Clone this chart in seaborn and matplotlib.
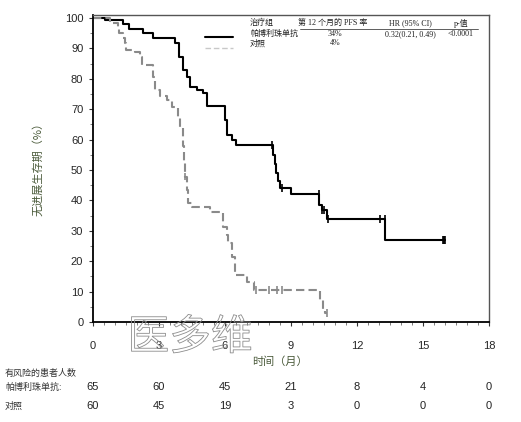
import matplotlib
matplotlib.use("Agg")
import matplotlib.pyplot as plt
import matplotlib.patheffects as pe
import seaborn as sns
import pandas as pd
import numpy as np
from matplotlib.ticker import MultipleLocator

# ---------------- data ----------------
pembro_t = [0, 0.55, 1.38, 1.65, 2.28, 2.74, 3.73, 3.92, 4.11, 4.26, 4.41, 4.71, 5.02, 5.17,
            6.00, 6.11, 6.30, 6.49, 8.17, 8.25, 8.32, 8.40, 8.50, 8.99, 10.29, 10.39, 10.62, 13.27, 16.0]
pembro_s = [100, 99.3, 98.0, 96.4, 95.0, 93.3, 91.7, 87.3, 82.9, 80.7, 77.4, 76.3, 75.3, 71.1,
            66.4, 61.5, 60.0, 58.2, 55.0, 52.0, 49.0, 46.5, 44.1, 42.1, 38.5, 36.8, 33.9, 27.0, 27.0]
pembro_cens_t = [8.15, 8.57, 10.29, 10.42, 10.50, 10.68, 13.05, 13.25, 15.90, 15.95, 16.0]
pembro_cens_s = [58.2, 44.1, 42.1, 36.8, 36.8, 33.9, 33.9, 33.9, 27.0, 27.0, 27.0]

ctrl_t = [0, 0.77, 1.12, 1.20, 1.36, 1.44, 1.52, 1.91, 2.14, 2.21, 2.74, 2.82, 3.05, 3.35, 3.58,
          3.88, 3.95, 4.10, 4.13, 4.16, 4.27, 4.30, 4.48, 5.32, 5.92, 6.08, 6.15, 6.30, 6.45,
          6.98, 7.30, 10.32, 10.45, 10.55, 10.65]
ctrl_s = [100, 98.3, 96.7, 95.0, 93.3, 91.7, 89.5, 88.9, 87.3, 84.5, 80.7, 76.3, 74.3, 72.9, 70.8,
          67.1, 64.2, 58.0, 52.5, 47.8, 43.4, 39.1, 37.8, 36.2, 31.3, 28.5, 26.0, 21.5, 15.5,
          13.0, 10.5, 7.2, 3.9, 3.0, 3.0]
ctrl_cens_t = [4.20, 7.40, 8.00, 8.35, 8.58, 10.65]
ctrl_cens_s = [47.8, 10.5, 10.5, 10.5, 10.5, 3.0]

groups = ["帕博利珠单抗", "对照"]
risk_times = [0, 3, 6, 9, 12, 15, 18]
risk_pembro = [65, 60, 45, 21, 8, 4, 0]
risk_ctrl = [60, 45, 19, 3, 0, 0, 0]

x_ticks = [0, 3, 6, 9, 12, 15, 18]
y_ticks = [0, 10, 20, 30, 40, 50, 60, 70, 80, 90, 100]

legend_head = ["治疗组", "第 12 个月的 PFS 率", "HR (95% CI)", "p-值"]
pfs12 = ["34%", "4%"]
hr_text = "0.32(0.21, 0.49)"
p_text = "<0.0001"

# ---------------- style ----------------
sns.set_theme(style="white")
plt.rcParams['font.family'] = ['Liberation Sans', 'Noto Sans CJK SC', 'DejaVu Sans']

W, H = 521, 422
fig = plt.figure(figsize=(W / 100, H / 100), dpi=100)
ax = fig.add_axes([93 / W, 1 - 322 / H, (489 - 93) / W, (322 - 15) / H])

df = pd.concat([
    pd.DataFrame({"t": pembro_t, "s": pembro_s, "group": groups[0]}),
    pd.DataFrame({"t": ctrl_t, "s": ctrl_s, "group": groups[1]}),
])
cens = pd.concat([
    pd.DataFrame({"t": pembro_cens_t, "s": pembro_cens_s, "group": groups[0]}),
    pd.DataFrame({"t": ctrl_cens_t, "s": ctrl_cens_s, "group": groups[1]}),
])
palette = {groups[0]: "black", groups[1]: "#8a8a8a"}

sns.lineplot(data=df, x="t", y="s", hue="group", style="group", palette=palette,
             dashes={groups[0]: "", groups[1]: (4, 2)}, drawstyle="steps-post",
             estimator=None, sort=False, linewidth=1.5, legend=False, ax=ax)
sns.scatterplot(data=cens, x="t", y="s", hue="group", palette=palette, marker="|",
                s=28, linewidth=1.2, legend=False, ax=ax, zorder=5)

ax.set_xlim(0, 18)
ax.set_ylim(0, 101)
ax.set_xticks(x_ticks)
ax.set_yticks(y_ticks)
ax.xaxis.set_minor_locator(MultipleLocator(0.5))
ax.yaxis.set_minor_locator(MultipleLocator(5))
ax.tick_params(axis="both", which="major", direction="out", length=3, width=0.8,
               labelsize=8, color="#333333", bottom=True, left=True)
ax.tick_params(axis="x", which="major", pad=11)
ax.tick_params(axis="y", which="major", pad=4)
ax.tick_params(axis="both", which="minor", direction="out", length=2, width=0.6,
               color="#666666", bottom=True, left=True)
ax.set_xlabel("")
ax.set_ylabel("")
for sp in ["left", "bottom"]:
    ax.spines[sp].set_color("black")
    ax.spines[sp].set_linewidth(1.3)
for sp in ["top", "right"]:
    ax.spines[sp].set_color("#555555")
    ax.spines[sp].set_linewidth(1.0)

lab_col = "#4a5a3a"
fig.text(280 / W, 1 - 362 / H, "时间（月）", ha="center", va="center", fontsize=8,
         color=lab_col, family=['Noto Sans CJK SC', 'DejaVu Sans'])
fig.text(38 / W, 1 - 166 / H, "无进展生存期（%）", ha="center", va="center", fontsize=8,
         color=lab_col, rotation=90, family=['Noto Sans CJK SC', 'DejaVu Sans'])

# ---------------- legend / stats box ----------------
def px(xp, yp):
    return ((xp - 93) / 22.0, (322 - yp) / 3.04)

serif = ['Liberation Serif', 'Noto Sans CJK SC', 'DejaVu Sans']
fs_leg = 5.8
tc = "#222222"
x0, y0 = px(250, 23)
ax.text(x0, y0, legend_head[0], fontsize=fs_leg, family=serif, color=tc, va="center", ha="left")
x0, y0 = px(250, 34)
ax.text(x0, y0, groups[0], fontsize=fs_leg, family=serif, color=tc, va="center", ha="left")
x0, y0 = px(250, 43)
ax.text(x0, y0, groups[1], fontsize=fs_leg, family=serif, color=tc, va="center", ha="left")

for xc, txt in [(333, legend_head[1]), (410, legend_head[2]), (461, legend_head[3])]:
    a, b = px(xc, 23)
    ax.text(a, b, txt, fontsize=fs_leg, family=serif, color=tc, va="center", ha="center")
a, b = px(335, 34)
ax.text(a, b, pfs12[0], fontsize=fs_leg, family=serif, color=tc, va="center", ha="center")
a, b = px(335, 43)
ax.text(a, b, pfs12[1], fontsize=fs_leg, family=serif, color=tc, va="center", ha="center")
a, b = px(410, 34)
ax.text(a, b, hr_text, fontsize=fs_leg, family=serif, color=tc, va="center", ha="center")
a, b = px(461, 34)
ax.text(a, b, p_text, fontsize=fs_leg, family=serif, color=tc, va="center", ha="center")

a1, b1 = px(300, 29)
a2, _ = px(478, 29)
ax.plot([a1, a2], [b1, b1], color="#444444", lw=0.6)
a1, b1 = px(205, 37)
a2, _ = px(233, 37)
ax.plot([a1, a2], [b1, b1], color="black", lw=1.5)
a1, b1 = px(205, 48)
a2, _ = px(233, 48)
ax.plot([a1, a2], [b1, b1], color="#c8c8c8", lw=1.0, dashes=(4, 2))

# ---------------- risk table ----------------
cjk = ['Noto Sans CJK SC', 'DejaVu Sans']
fig.text(5 / W, 1 - 373 / H, "有风险的患者人数", fontsize=6.5, family=cjk, color="#333333", va="center")
fig.text(5 / W, 1 - 387 / H, groups[0] + ":", fontsize=6.5, family=cjk, color="#333333", va="center")
fig.text(5 / W, 1 - 406 / H, groups[1], fontsize=6.5, family=cjk, color="#333333", va="center")
trans = matplotlib.transforms.blended_transform_factory(ax.transData, fig.transFigure)
for t, n1, n2 in zip(risk_times, risk_pembro, risk_ctrl):
    ax.text(t, 1 - 387 / H, str(n1), transform=trans, ha="center", va="center", fontsize=8,
            color="#222222", clip_on=False)
    ax.text(t, 1 - 406 / H, str(n2), transform=trans, ha="center", va="center", fontsize=8,
            color="#222222", clip_on=False)

# watermark (thin outlined glyphs)
fig.text(190 / W, 1 - 338 / H, "医多维", ha="center", va="center", fontsize=30,
         color=(1, 1, 1, 0), family=cjk, fontweight="light", zorder=10,
         path_effects=[pe.Stroke(linewidth=0.6, foreground="#8c8c8c")])

fig.savefig("out.png", dpi=100)
